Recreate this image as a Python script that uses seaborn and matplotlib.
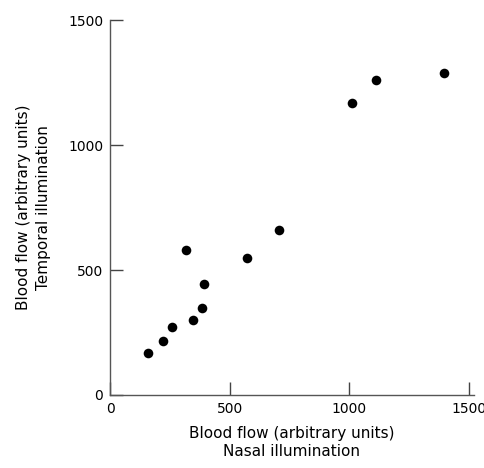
import numpy as np
import pandas as pd
import matplotlib
matplotlib.use("Agg")
import matplotlib.pyplot as plt
import seaborn as sns

# nasal vs temporal illumination blood flow
nasal = [157, 219, 260, 345, 384, 393, 319, 570, 706, 1010, 1113, 1396]
temporal = [168, 217, 271, 300, 348, 444, 579, 548, 662, 1167, 1260, 1289]
x_ticks = [0, 500, 1000, 1500]
y_ticks = [0, 500, 1000, 1500]

df = pd.DataFrame({"nasal": nasal, "temporal": temporal})

sns.set_style("ticks")
plt.rcParams['font.family'] = ['DejaVu Sans']

fig = plt.figure(figsize=(4.85, 4.68), dpi=100)
ax = fig.add_axes([0.227, 0.156, 0.750, 0.801])

sns.scatterplot(data=df, x="nasal", y="temporal", color="black", s=48,
                edgecolor="black", linewidth=0, ax=ax)

ax.set_xlim(0, 1520)
ax.set_ylim(0, 1500)
ax.set_xticks(x_ticks)
ax.set_yticks(y_ticks)
ax.tick_params(direction="in", length=9.5, width=1.0, color="#444444",
               labelsize=10, labelcolor="black", pad=5)

for side in ["top", "right"]:
    ax.spines[side].set_visible(False)
for side in ["left", "bottom"]:
    ax.spines[side].set_color("#555555")
    ax.spines[side].set_linewidth(1.0)

ax.set_xlabel("Blood flow (arbitrary units)\nNasal illumination", fontsize=11,
              color="black", labelpad=7.5)
ax.set_ylabel("Blood flow (arbitrary units)\nTemporal illumination", fontsize=11,
              color="black", labelpad=12, linespacing=1.45)

fig.savefig("out.png", dpi=100)
